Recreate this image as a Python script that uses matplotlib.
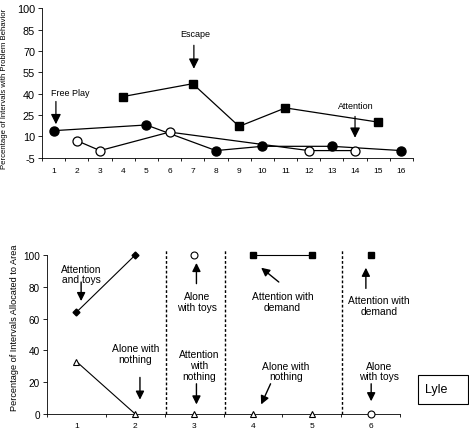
import numpy as np
import matplotlib
matplotlib.use("Agg")
import matplotlib.pyplot as plt

plt.rcParams['font.family'] = ['Liberation Sans', 'DejaVu Sans']

# =========================
# DATA - functional analysis (top)
# =========================
fa_ticks = list(range(1, 17))
fa_yticks = [-5, 10, 25, 40, 55, 70, 85, 100]

free_play_x = [1, 5, 8, 10, 13, 16]
free_play_y = [14, 18, 0, 3, 3, 0]

alone_x = [2, 3, 6, 12, 14]
alone_y = [7, 0, 13, 0, 0]

escape_x = [4, 7, 9, 11, 15]
escape_y = [38, 47, 17, 30, 20]

# =========================
# DATA - choice assessment (bottom)
# =========================
ca_ticks = [1, 2, 3, 4, 5, 6]
ca_yticks = [0, 20, 40, 60, 80, 100]
phase_lines = [2.53, 3.52, 5.52]

att_toys_x = [1, 2]
att_toys_y = [64, 100]

alone_nothing_x = [1, 2]
alone_nothing_y = [33, 0]

triangle_x = [3, 4, 5]
triangle_y = [0, 0, 0]

alone_toys_x = [3, 6]
alone_toys_y = [100, 0]

demand_x = [4, 5]
demand_y = [100, 100]
demand6_x = [6]
demand6_y = [100]

W, H = 469, 431
fig = plt.figure(figsize=(W / 100, H / 100), dpi=100)

# ---------- top panel ----------
ax1 = fig.add_axes([42 / W, 1 - 158.7 / H, (413 - 42) / W, (158.7 - 9.3) / H])
ax1.plot(free_play_x, free_play_y, color='black', lw=0.9, marker='o', ms=6.5,
         mfc='black', mec='black', clip_on=False, zorder=3)
ax1.plot(alone_x, alone_y, color='black', lw=0.9, marker='o', ms=6.5,
         mfc='white', mec='black', mew=0.9, clip_on=False, zorder=3)
ax1.plot(escape_x, escape_y, color='black', lw=0.9, marker='s', ms=5.8,
         mfc='black', mec='black', clip_on=False, zorder=3)

ax1.set_xlim(0.5, 16.13)
ax1.set_ylim(-5, 100)
ax1.set_yticks(fa_yticks)
ax1.set_yticklabels([str(v) for v in fa_yticks], fontsize=7.8)
ax1.set_xticks(fa_ticks)
ax1.set_xticklabels([str(v) for v in fa_ticks], fontsize=6)
ax1.set_xticks(np.arange(0.5, 16.6, 1), minor=True)
ax1.tick_params(axis='x', which='major', length=0, pad=7)
ax1.tick_params(axis='x', which='minor', length=2.5, width=0.6, direction='out')
ax1.tick_params(axis='y', length=3, width=0.6, direction='out', pad=2)
for s in ['top', 'right']:
    ax1.spines[s].set_visible(False)
for s in ['left', 'bottom']:
    ax1.spines[s].set_linewidth(0.6)
ax1.set_ylabel('Percentage of Intervals with Problem Behavior', fontsize=5.6)
ax1.yaxis.set_label_coords(-0.092, 0.47)

arrow_top = dict(arrowstyle='-|>,head_length=0.6,head_width=0.3', color='black', lw=0.9,
                 shrinkA=0, shrinkB=0)
ax1.annotate('', xy=(1.1, 18.5), xytext=(1.1, 34.5), arrowprops=arrow_top)
ax1.text(1.7, 40.5, 'Free Play', fontsize=6.5, ha='center', va='center')
ax1.annotate('', xy=(7.05, 57.5), xytext=(7.05, 74), arrowprops=arrow_top)
ax1.text(7.1, 82, 'Escape', fontsize=6.5, ha='center', va='center')
ax1.annotate('', xy=(14.0, 9), xytext=(14.0, 24), arrowprops=arrow_top)
ax1.text(14.05, 32, 'Attention', fontsize=6.5, ha='center', va='center')

# ---------- bottom panel ----------
ax2 = fig.add_axes([47 / W, 1 - 415 / H, (400 - 47) / W, (415 - 256) / H])
ax2.plot(att_toys_x, att_toys_y, color='black', lw=0.8, marker='D', ms=3.5,
         mfc='black', mec='black', clip_on=False, zorder=3)
ax2.plot(alone_nothing_x, alone_nothing_y, color='black', lw=0.8, marker='^', ms=5,
         mfc='white', mec='black', mew=0.8, clip_on=False, zorder=3)
ax2.plot(triangle_x, triangle_y, ls='none', marker='^', ms=5,
         mfc='white', mec='black', mew=0.8, clip_on=False, zorder=3)
ax2.plot(alone_toys_x, alone_toys_y, ls='none', marker='o', ms=5,
         mfc='white', mec='black', mew=0.8, clip_on=False, zorder=3)
ax2.plot(demand_x, demand_y, color='black', lw=0.8, marker='s', ms=4.5,
         mfc='black', mec='black', clip_on=False, zorder=3)
ax2.plot(demand6_x, demand6_y, ls='none', marker='s', ms=4.5,
         mfc='black', mec='black', clip_on=False, zorder=3)
for xv in phase_lines:
    ax2.plot([xv, xv], [0, 104], color='black', lw=1.0, ls=(0, (2, 1.5)), clip_on=False)

ax2.set_xlim(0.5, 6.5)
ax2.set_ylim(0, 100)
ax2.set_yticks(ca_yticks)
ax2.set_yticklabels([str(v) for v in ca_yticks], fontsize=7.2)
ax2.set_xticks(ca_ticks)
ax2.set_xticklabels([str(v) for v in ca_ticks], fontsize=6)
ax2.set_xticks(np.arange(0.5, 6.6, 1), minor=True)
ax2.tick_params(axis='x', which='major', length=0, pad=6)
ax2.tick_params(axis='x', which='minor', length=2.5, width=0.6, direction='out')
ax2.tick_params(axis='y', length=3, width=0.6, direction='out', pad=2)
for s in ['top', 'right']:
    ax2.spines[s].set_visible(False)
for s in ['left', 'bottom']:
    ax2.spines[s].set_linewidth(0.6)
ax2.set_ylabel('Percentage of Intervals Allocated to Area', fontsize=6.6)
ax2.yaxis.set_label_coords(-0.08, 0.55)

arrow_bot = dict(arrowstyle='-|>,head_length=0.5,head_width=0.25', color='black', lw=1.0,
                 shrinkA=0, shrinkB=0)
fs = 7.4
ax2.text(1.09, 88, 'Attention\nand toys', fontsize=fs, ha='center', va='center', linespacing=1.1)
ax2.annotate('', xy=(1.08, 71), xytext=(1.08, 83), arrowprops=arrow_bot)

ax2.text(2.0, 38, 'Alone with\nnothing', fontsize=fs, ha='center', va='center', linespacing=1.1)
ax2.annotate('', xy=(2.08, 9), xytext=(2.08, 23), arrowprops=arrow_bot)

ax2.text(3.05, 71, 'Alone\nwith toys', fontsize=fs, ha='center', va='center', linespacing=1.1)
ax2.annotate('', xy=(3.04, 95), xytext=(3.04, 82), arrowprops=arrow_bot)

ax2.text(3.09, 31, 'Attention\nwith\nnothing', fontsize=fs, ha='center', va='center', linespacing=1.1)
ax2.annotate('', xy=(3.04, 6), xytext=(3.04, 19), arrowprops=arrow_bot)

ax2.text(4.5, 71, 'Attention with\ndemand', fontsize=fs, ha='center', va='center', linespacing=1.1)
ax2.annotate('', xy=(4.14, 92), xytext=(4.44, 83), arrowprops=arrow_bot)

ax2.text(4.56, 27, 'Alone with\nnothing', fontsize=fs, ha='center', va='center', linespacing=1.1)
ax2.annotate('', xy=(4.14, 6), xytext=(4.3, 19), arrowprops=arrow_bot)

ax2.text(6.14, 68, 'Attention with\ndemand', fontsize=fs, ha='center', va='center', linespacing=1.1)
ax2.annotate('', xy=(5.92, 92), xytext=(5.92, 79), arrowprops=arrow_bot)

ax2.text(6.14, 27, 'Alone\nwith toys', fontsize=fs, ha='center', va='center', linespacing=1.1)
ax2.annotate('', xy=(6.01, 8), xytext=(6.01, 19), arrowprops=arrow_bot)

# Lyle box
fig.patches.append(plt.Rectangle((418 / W, 1 - 405 / H), 50 / W, 29 / H, transform=fig.transFigure,
                                 fill=False, edgecolor='black', lw=0.8))
fig.text(425 / W, 1 - 390.5 / H, 'Lyle', fontsize=9, ha='left', va='center')

fig.savefig('out.png', dpi=100)
